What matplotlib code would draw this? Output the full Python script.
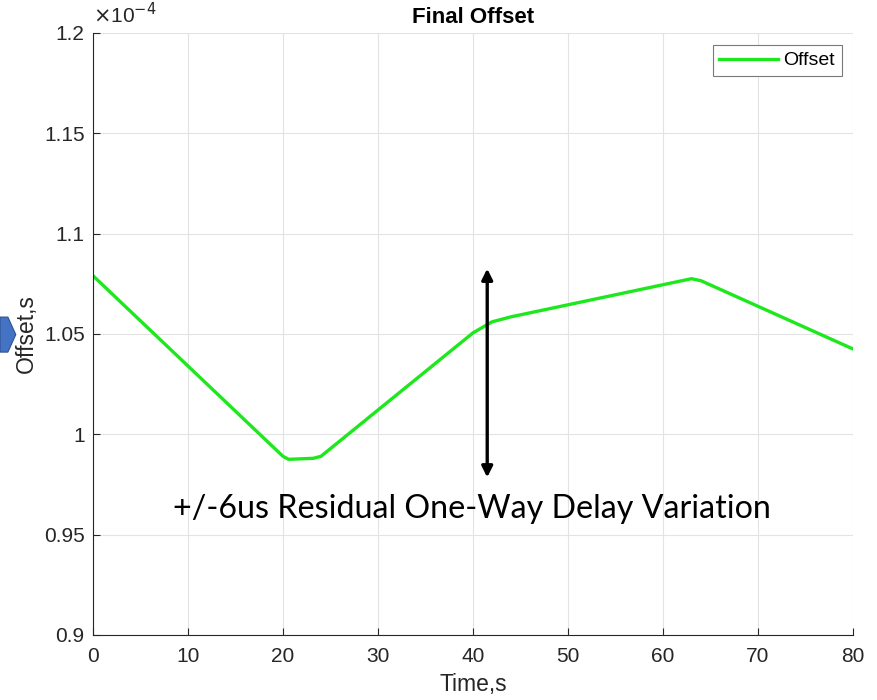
import matplotlib
matplotlib.use("Agg")
import matplotlib.pyplot as plt
from matplotlib.patches import Polygon
from matplotlib.ticker import FuncFormatter

# offset samples (units of 1e-4 s) against time
time_s = [0, 20, 20.6, 23.2, 24, 40, 42, 44, 60, 63, 64, 80]
offset_e4 = [1.079, 0.989, 0.9875, 0.988, 0.989, 1.0505, 1.056, 1.0585, 1.0745, 1.0775, 1.0765, 1.0425]

x_ticks = [0, 10, 20, 30, 40, 50, 60, 70, 80]
y_ticks = [0.9, 0.95, 1.0, 1.05, 1.1, 1.15, 1.2]

# vertical span marking the residual delay variation
span_t = 41.5
span_lo, span_hi = 0.9785, 1.0825
note = "+/-6us Residual One-Way Delay Variation"

plt.rcParams['font.family'] = ['Liberation Sans', 'DejaVu Sans']
dark = '#262626'

fig = plt.figure(figsize=(8.77, 7.0), dpi=100)
ax = fig.add_axes([0.106, 0.093, 0.8666, 0.86])

ax.plot(time_s, offset_e4, color='#1de81d', linewidth=2.4, label='Offset',
        solid_joinstyle='round')

ax.set_xlim(0, 80)
ax.set_ylim(0.9, 1.2)
ax.set_xticks(x_ticks)
ax.set_yticks(y_ticks)
ax.yaxis.set_major_formatter(FuncFormatter(lambda v, p: f"{v:g}"))
ax.grid(True, color='#e3e3e3', linewidth=0.8)
ax.set_axisbelow(True)
for s in ['top', 'right']:
    ax.spines[s].set_visible(False)
for s in ['left', 'bottom']:
    ax.spines[s].set_color(dark)
    ax.spines[s].set_linewidth(0.8)
ax.tick_params(direction='in', length=5, width=0.8, colors=dark, labelsize=15, pad=6)
ax.tick_params(axis='x', pad=9)

ax.set_title('Final Offset', fontsize=16, fontweight='bold', color='black', pad=7)
ax.set_xlabel('Time,s', fontsize=16.5, color=dark, labelpad=5)
ax.set_ylabel('Offset,s', fontsize=16.5, color=dark, labelpad=4)
ax.text(0.0, 1.01, r'$\times$10$^{-4}$', transform=ax.transAxes, fontsize=15,
        color=dark, ha='left', va='bottom')

leg = ax.legend(loc='upper right', fontsize=14, fancybox=False, framealpha=1,
                edgecolor='#7a7a7a', handlelength=3.0, handletextpad=0.3,
                borderpad=0.35, borderaxespad=0, bbox_to_anchor=(0.9855, 0.98))
leg.get_frame().set_linewidth(0.8)

ax.annotate('', xy=(span_t, span_hi), xytext=(span_t, span_lo),
            arrowprops=dict(arrowstyle='<|-|>', color='black', lw=2.4,
                            mutation_scale=16, shrinkA=0, shrinkB=0))
ax.text(0.499, 0.209, note, transform=ax.transAxes, fontsize=23.2,
        family=['Lato', 'DejaVu Sans'], ha='center', va='center', color='black')

# blue marker partly cut off at the left edge
fig.patches.append(Polygon([(0, 0.497), (0.009, 0.497), (0.018, 0.522),
                            (0.009, 0.547), (0, 0.547)], closed=True,
                           transform=fig.transFigure, facecolor='#4472c4',
                           edgecolor='#2f528f', linewidth=0.8))

fig.savefig('out.png', dpi=100)
